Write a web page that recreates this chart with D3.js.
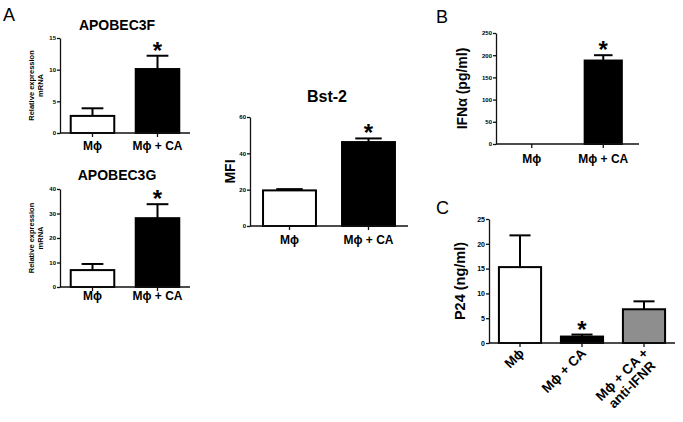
<!DOCTYPE html>
<html>
<head>
<meta charset="utf-8">
<script src="https://cdn.jsdelivr.net/npm/d3@7"></script>
<style>
  body { margin: 0; background: #fff; }
  text { font-family: Arial, "Liberation Sans", sans-serif; }
</style>
</head>
<body>
<svg id="fig" width="683" height="422"></svg>
<script>
// values (mean and SEM)
const groups2 = ["Mϕ", "Mϕ + CA"]
const groups3 = [["Mϕ"], ["Mϕ + CA"], ["Mϕ + CA +", "anti-IFNR"]]

const a3fMean = [2.7, 10.1]
const a3fSem = [1.2, 2.1]
const a3fTicks = [0, 5, 10, 15]

const a3gMean = [6.9, 28.1]
const a3gSem = [2.5, 5.7]
const a3gTicks = [0, 10, 20, 30, 40]

const bstMean = [19.6, 46.2]
const bstSem = [0.7, 2.0]
const bstTicks = [0, 20, 40, 60]

const ifnMean = [0, 188]
const ifnSem = [0, 12]
const ifnTicks = [0, 50, 100, 150, 200, 250]

const p24Mean = [15.3, 1.3, 6.8]
const p24Sem = [6.4, 0.4, 1.6]
const p24Ticks = [0, 5, 10, 15, 20, 25]

const stars2 = [false, true]
const stars3 = [false, true, false]

const svg = d3.select("#fig")

// one GraphPad-style bar panel
function drawPanel(o) {
    const g = svg.append("g")

    const x = d3.scaleBand()
        .domain(d3.range(o.mean.length))
        .range([o.left, o.right])
        .paddingInner(o.pad)
        .paddingOuter(o.pad / 2)

    const y = d3.scaleLinear()
        .domain([0, d3.max(o.ticks)])
        .range([o.bottom, o.top])

    // bars
    g.selectAll("rect.bar")
        .data(o.mean)
        .enter().append("rect")
        .attr("x", (d, i) => x(i))
        .attr("y", d => y(d))
        .attr("width", x.bandwidth())
        .attr("height", d => y(0) - y(d))
        .attr("fill", (d, i) => o.fill[i])
        .attr("stroke", "#000")
        .attr("stroke-width", d => d > 0 ? 2 : 0)

    // upper error bars
    const cap = x.bandwidth() / 4
    o.mean.forEach((m, i) => {
        if (o.sem[i] <= 0) return
        const cx = x(i) + x.bandwidth() / 2
        const top = y(m + o.sem[i])
        g.append("line")
            .attr("x1", cx).attr("x2", cx)
            .attr("y1", y(m)).attr("y2", top)
            .attr("stroke", "#000").attr("stroke-width", 2)
        g.append("line")
            .attr("x1", cx - cap).attr("x2", cx + cap)
            .attr("y1", top).attr("y2", top)
            .attr("stroke", "#000").attr("stroke-width", 2)
        if (o.stars[i]) {
            g.append("text")
                .attr("x", cx)
                .attr("y", top + 3)
                .attr("text-anchor", "middle")
                .attr("font-size", 24)
                .attr("font-weight", "bold")
                .text("*")
        }
    })

    // y axis
    const ya = g.append("g")
        .attr("transform", "translate(" + o.left + ",0)")
        .call(d3.axisLeft(y).tickValues(o.ticks).tickSize(3).tickSizeOuter(0).tickPadding(1))
    ya.selectAll("text").attr("font-size", o.tickSize).attr("font-weight", "bold").attr("font-family", "Arial, sans-serif")
    ya.selectAll("line, path").attr("stroke", "#111").attr("stroke-width", 1.3)

    // x axis
    const xa = g.append("g")
        .attr("transform", "translate(0," + o.bottom + ")")
        .call(d3.axisBottom(x).tickSize(4).tickSizeOuter(0).tickFormat(""))
    xa.select("path").attr("d", "M" + o.left + ",0H" + o.right)
    xa.selectAll("line, path").attr("stroke", "#111").attr("stroke-width", 1.3)

    // category labels
    if (o.rotate) {
        o.labels.forEach((lines, i) => {
            const cx = x(i) + x.bandwidth() / 2
            const t = g.append("text")
                .attr("transform", "translate(" + (cx + 5) + "," + (o.bottom + 11) + ") rotate(-45)")
                .attr("text-anchor", "middle")
                .attr("font-size", o.labelSize)
                .attr("font-weight", "bold")
            const spans = lines.map((s, k) =>
                t.append("tspan").attr("dy", k ? "1.05em" : 0).text(s))
            // centre the lines on the widest one, whose end sits at the tick
            const w = d3.max(spans, s => s.node().getComputedTextLength())
            spans.forEach(s => s.attr("x", -w / 2))
        })
    } else {
        g.selectAll("text.cat")
            .data(o.labels)
            .enter().append("text")
            .attr("x", (d, i) => x(i) + x.bandwidth() / 2)
            .attr("y", o.bottom + o.labelDy)
            .attr("text-anchor", "middle")
            .attr("font-size", o.labelSize)
            .attr("font-weight", "bold")
            .text(d => d)
    }

    // y title
    const yt = g.append("text")
        .attr("transform", "translate(" + o.yTitleX + "," + (o.top + o.bottom) / 2 + ") rotate(-90)")
        .attr("text-anchor", "middle")
        .attr("font-size", o.yTitleSize)
        .attr("font-weight", "bold")
    o.yTitle.forEach((s, k) => {
        yt.append("tspan").attr("x", 0).attr("dy", k ? "1.2em" : 0).text(s)
    })

    if (o.title) {
        g.append("text")
            .attr("x", o.titleX)
            .attr("y", o.titleY)
            .attr("text-anchor", "middle")
            .attr("font-size", o.titleSize)
            .attr("font-weight", "bold")
            .text(o.title)
    }
}

const whiteBlack = ["#fff", "#000"]

drawPanel({ mean: a3fMean, sem: a3fSem, ticks: a3fTicks, stars: stars2, labels: groups2,
    fill: whiteBlack, left: 60, right: 190, top: 38, bottom: 133, pad: 0.33,
    tickSize: 6, labelSize: 12, labelDy: 17,
    yTitle: ["Relative expression", "mRNA"], yTitleX: 34, yTitleSize: 7.5,
    title: "APOBEC3F", titleX: 117, titleY: 30, titleSize: 14 })

drawPanel({ mean: a3gMean, sem: a3gSem, ticks: a3gTicks, stars: stars2, labels: groups2,
    fill: whiteBlack, left: 60, right: 190, top: 189, bottom: 287, pad: 0.33,
    tickSize: 6, labelSize: 12, labelDy: 13,
    yTitle: ["Relative expression", "mRNA"], yTitleX: 34, yTitleSize: 7.5,
    title: "APOBEC3G", titleX: 117, titleY: 180, titleSize: 14 })

drawPanel({ mean: bstMean, sem: bstSem, ticks: bstTicks, stars: stars2, labels: groups2,
    fill: whiteBlack, left: 250, right: 408, top: 117, bottom: 226, pad: 0.33,
    tickSize: 6, labelSize: 12, labelDy: 18,
    yTitle: ["MFI"], yTitleX: 235, yTitleSize: 14,
    title: "Bst-2", titleX: 327, titleY: 102, titleSize: 16 })

drawPanel({ mean: ifnMean, sem: ifnSem, ticks: ifnTicks, stars: stars2, labels: groups2,
    fill: whiteBlack, left: 496, right: 639, top: 33, bottom: 144, pad: 0.48,
    tickSize: 6, labelSize: 12, labelDy: 19,
    yTitle: ["IFNα (pg/ml)"], yTitleX: 467, yTitleSize: 14 })

drawPanel({ mean: p24Mean, sem: p24Sem, ticks: p24Ticks, stars: stars3, labels: groups3,
    fill: ["#fff", "#000", "#8e8e8e"], left: 489, right: 675, top: 219, bottom: 343, pad: 0.32,
    tickSize: 7, labelSize: 13.5, rotate: true,
    yTitle: ["P24 (ng/ml)"], yTitleX: 465, yTitleSize: 14.5 })

// panel letters
const letters = [["A", 3, 21], ["B", 436, 23], ["C", 436, 214]]
svg.selectAll("text.letter")
    .data(letters)
    .enter().append("text")
    .attr("x", d => d[1])
    .attr("y", d => d[2])
    .attr("font-size", 18)
    .attr("font-family", "'Open Sans', sans-serif")
    .text(d => d[0])
</script>
</body>
</html>
